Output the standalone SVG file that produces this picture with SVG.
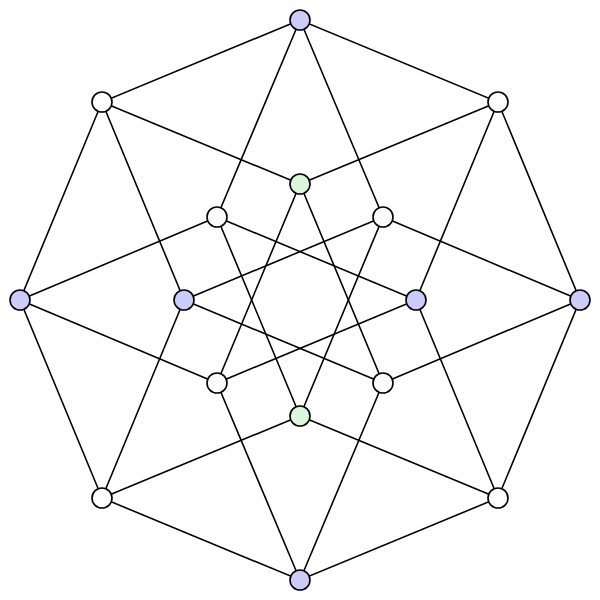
<svg xmlns="http://www.w3.org/2000/svg" width="600" height="600" viewBox="0 0 600 600">
<style>
.e{stroke:#000;stroke-width:1.6;fill:none}
.n{stroke:#000;stroke-width:1.6}
.w{fill:#fff}.b{fill:#ccccfa}.g{fill:#dcf5dc}
</style>
<rect width="600" height="600" fill="#fff"/>
<g id="edges" class="e">
<path d="M300,20L102,102L20,300L102,498L300,580L498,498L580,300L498,102Z"/>
<path d="M300,20L217,217M300,20L383,217"/>
<path d="M102,102L300,184M102,102L184,300"/>
<path d="M498,102L300,184M498,102L416,300"/>
<path d="M20,300L217,217M20,300L217,383"/>
<path d="M580,300L383,217M580,300L383,383"/>
<path d="M102,498L184,300M102,498L300,416"/>
<path d="M498,498L416,300M498,498L300,416"/>
<path d="M300,580L217,383M300,580L383,383"/>
<path d="M300,184L217,383M300,184L383,383"/>
<path d="M217,217L300,416M217,217L416,300"/>
<path d="M383,217L300,416M383,217L184,300"/>
<path d="M184,300L383,383M416,300L217,383"/>
</g>
<g id="n1"><circle class="n b" cx="300" cy="20" r="10"/></g>
<g id="n2"><circle class="n w" cx="102" cy="102" r="10"/></g>
<g id="n3"><circle class="n w" cx="498" cy="102" r="10"/></g>
<g id="n4"><circle class="n b" cx="20" cy="300" r="10"/></g>
<g id="n5"><circle class="n b" cx="580" cy="300" r="10"/></g>
<g id="n6"><circle class="n w" cx="102" cy="498" r="10"/></g>
<g id="n7"><circle class="n w" cx="498" cy="498" r="10"/></g>
<g id="n8"><circle class="n b" cx="300" cy="580" r="10"/></g>
<g id="n9"><circle class="n g" cx="300" cy="184" r="10"/></g>
<g id="n10"><circle class="n g" cx="300" cy="416" r="10"/></g>
<g id="n11"><circle class="n w" cx="217" cy="217" r="10"/></g>
<g id="n12"><circle class="n w" cx="383" cy="217" r="10"/></g>
<g id="n13"><circle class="n b" cx="184" cy="300" r="10"/></g>
<g id="n14"><circle class="n b" cx="416" cy="300" r="10"/></g>
<g id="n15"><circle class="n w" cx="217" cy="383" r="10"/></g>
<g id="n16"><circle class="n w" cx="383" cy="383" r="10"/></g>
</svg>
